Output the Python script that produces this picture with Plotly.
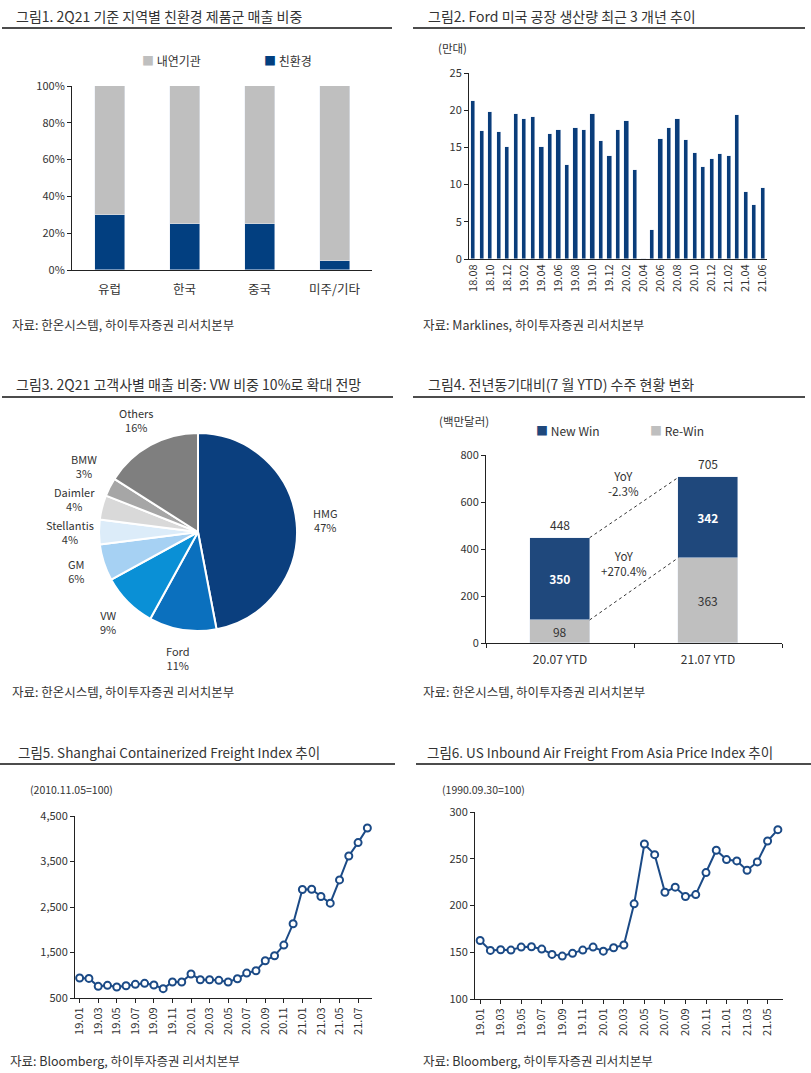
import math
import plotly.graph_objects as go

W, H = 811, 1073
FONT = "Noto Sans CJK KR"
TXT = "#333333"


def fx(p):
    return p / W


def fy(p):
    return 1 - p / H


def months(y0, m0, n):
    out = []
    y, m = y0, m0
    for _ in range(n):
        out.append(f"{y:02d}.{m:02d}")
        m += 1
        if m > 12:
            m = 1
            y += 1
    return out


# ---------------- data ----------------
regions = ['유럽', '한국', '중국', '미주/기타']
eco_share = [30, 25, 25, 5]
ice_share = [70, 75, 75, 95]

ford_months = months(18, 8, 35)
ford_prod = [21.2, 17.2, 19.8, 17.1, 15.1, 19.5, 18.8, 19.1, 15.0, 16.8, 17.3, 12.7,
             17.6, 17.3, 19.5, 15.8, 13.9, 17.4, 18.5, 12.0, 0.0, 3.9, 16.1, 17.6,
             18.8, 16.0, 14.2, 12.4, 13.5, 14.1, 13.8, 19.4, 9.0, 7.3, 9.5]

pie_labels = ['HMG', 'Ford', 'VW', 'GM', 'Stellantis', 'Daimler', 'BMW', 'Others']
pie_values = [47, 11, 9, 6, 4, 4, 3, 16]
pie_colors = ['#0B3F7E', '#0B70BE', '#0A90D6', '#A6D1F3', '#DCECF9', '#D9D9D9', '#A6A6A6', '#7F7F7F']

win_periods = ['20.07 YTD', '21.07 YTD']
re_win = [98, 363]
new_win = [350, 342]
yoy_labels = ['YoY<br>-2.3%', 'YoY<br>+270.4%']

scfi_months = months(19, 1, 32)
scfi = [939, 931, 756, 778, 741, 770, 800, 822, 785, 705, 851, 851,
        1027, 902, 902, 888, 851, 924, 1048, 1100, 1319, 1429, 1663, 2131,
        2884, 2891, 2730, 2584, 3096, 3622, 3915, 4237]

air_months = months(19, 1, 30)
air = [162.6, 152.0, 152.7, 152.3, 155.5, 155.9, 153.4, 147.7, 145.9, 148.8, 152.3, 155.5,
       151.2, 154.8, 157.7, 201.8, 265.8, 254.4, 214.2, 219.6, 209.6, 211.7, 235.2, 259.1,
       249.1, 247.7, 237.7, 246.6, 269.0, 281.1]

NAVY4 = '#1F487C'
GRAY = '#BFBFBF'
LINE = '#1B4A86'

fig = go.Figure()

# ---- panel 1
fig.add_trace(go.Bar(x=regions, y=eco_share, marker_color='#023F80', width=0.4,
                     xaxis='x', yaxis='y', showlegend=False))
fig.add_trace(go.Bar(x=regions, y=ice_share, marker_color=GRAY, width=0.4,
                     xaxis='x', yaxis='y', showlegend=False))

# ---- panel 2
fig.add_trace(go.Bar(x=ford_months, y=ford_prod, marker_color='#0A3D7A', width=0.5,
                     xaxis='x2', yaxis='y2', showlegend=False))

# ---- panel 3 (pie)
PIE_CX, PIE_CY, PIE_R = 198, 532, 99
fig.add_trace(go.Pie(labels=pie_labels, values=pie_values, sort=False, direction='clockwise',
                     rotation=0, marker=dict(colors=pie_colors, line=dict(color='white', width=2)),
                     textinfo='none', automargin=False,
                     domain=dict(x=[fx(PIE_CX - PIE_R), fx(PIE_CX + PIE_R)],
                                 y=[fy(PIE_CY + PIE_R), fy(PIE_CY - PIE_R)]),
                     showlegend=False))

# ---- panel 4
fig.add_trace(go.Bar(x=win_periods, y=re_win, marker_color=GRAY, width=0.4,
                     text=[str(v) for v in re_win], textposition='inside', insidetextanchor='middle',
                     textangle=0, constraintext='none',
                     textfont=dict(color=TXT, size=12, family=FONT),
                     xaxis='x4', yaxis='y4', showlegend=False))
fig.add_trace(go.Bar(x=win_periods, y=new_win, marker_color=NAVY4, width=0.4,
                     text=[f"<b>{v}</b>" for v in new_win], textposition='inside', insidetextanchor='middle',
                     textangle=0, constraintext='none',
                     textfont=dict(color='white', size=12, family=FONT),
                     xaxis='x4', yaxis='y4', showlegend=False))

# ---- panel 5
fig.add_trace(go.Scatter(x=scfi_months, y=scfi, mode='lines+markers',
                         line=dict(color=LINE, width=2),
                         marker=dict(symbol='circle', size=7, color='white', line=dict(color=LINE, width=2)),
                         xaxis='x5', yaxis='y5', showlegend=False))

# ---- panel 6
fig.add_trace(go.Scatter(x=air_months, y=air, mode='lines+markers',
                         line=dict(color=LINE, width=2),
                         marker=dict(symbol='circle', size=7, color='white', line=dict(color=LINE, width=2)),
                         xaxis='x6', yaxis='y6', showlegend=False))

axfont = dict(family=FONT, size=11, color=TXT)
base_axis = dict(showgrid=False, zeroline=False, showline=True, linecolor='#222222', linewidth=1,
                 ticks='outside', ticklen=4, tickcolor='#222222', tickfont=axfont, fixedrange=True,
                 automargin=False)

layout = dict(
    width=W, height=H, margin=dict(l=0, r=0, t=0, b=0, pad=0), autosize=False,
    paper_bgcolor='white', plot_bgcolor='white', barmode='stack', bargap=0,
    font=dict(family=FONT, color=TXT),
    xaxis=dict(base_axis, domain=[fx(72), fx(372)], anchor='y', ticks='', tickfont=dict(axfont, size=12.5),
               range=[-0.5, 3.5], ticklabelstandoff=8),
    yaxis=dict(base_axis, domain=[fy(270), fy(86)], anchor='x', range=[0, 100],
               tickvals=[0, 20, 40, 60, 80, 100], ticktext=['0%', '20%', '40%', '60%', '80%', '100%']),
    xaxis2=dict(base_axis, domain=[fx(469), fx(767)], anchor='y2', range=[-0.5, 34.5],
                tickmode='array', tickvals=ford_months[::2], ticktext=ford_months[::2],
                tickangle=-90, ticks=''),
    yaxis2=dict(base_axis, domain=[fy(259), fy(73)], anchor='x2', range=[0, 25], dtick=5),
    xaxis4=dict(base_axis, domain=[fx(486), fx(782)], anchor='y4', range=[-0.5, 1.5],
                tickson='boundaries', tickfont=dict(axfont, size=12), ticklabelstandoff=6),
    yaxis4=dict(base_axis, domain=[fy(643), fy(455)], anchor='x4', range=[0, 800], dtick=200),
    xaxis5=dict(base_axis, domain=[fx(75), fx(372)], anchor='y5', range=[-0.5, 31.5],
                tickmode='array', tickvals=scfi_months[::2], ticktext=scfi_months[::2], tickangle=-90),
    yaxis5=dict(base_axis, domain=[fy(998), fy(816)], anchor='x5', range=[500, 4500],
                tickvals=[500, 1500, 2500, 3500, 4500], tickformat=','),
    xaxis6=dict(base_axis, domain=[fx(475), fx(783)], anchor='y6', range=[-0.5, 29.5],
                tickmode='array', tickvals=air_months[::2], ticktext=air_months[::2], tickangle=-90),
    yaxis6=dict(base_axis, domain=[fy(999), fy(812)], anchor='x6', range=[100, 300], dtick=50),
)
fig.update_layout(**layout)

ann = []
shapes = []


def text(x, y, s, size=12, xanchor='left', yanchor='middle', color=TXT, **kw):
    ann.append(dict(x=fx(x), y=fy(y), xref='paper', yref='paper', text=s, showarrow=False,
                    xanchor=xanchor, yanchor=yanchor, font=dict(family=FONT, size=size, color=color), **kw))


def hline(x0, x1, y):
    shapes.append(dict(type='line', xref='paper', yref='paper', x0=fx(x0), x1=fx(x1), y0=fy(y), y1=fy(y),
                       line=dict(color='#111111', width=1.5)))


# titles
text(14, 16, '그림1. 2Q21 기준 지역별 친환경 제품군 매출 비중', size=14)
text(426, 16, '그림2. Ford 미국 공장 생산량 최근 3 개년 추이', size=14)
text(14, 384, '그림3. 2Q21 고객사별 매출 비중: VW 비중 10%로 확대 전망', size=14)
text(426, 384, '그림4. 전년동기대비(7 월 YTD) 수주 현황 변화', size=14)
text(16, 752, '그림5. Shanghai Containerized Freight Index 추이', size=13.5)
text(425, 752, '그림6. US Inbound Air Freight From Asia Price Index 추이', size=13.5)
hline(2, 392, 28)
hline(413, 805, 28)
hline(2, 393, 397)
hline(413, 805, 397)
hline(0, 395, 764)
hline(416, 811, 764)

# sources
SRC = 12.5
text(10, 324, '자료: 한온시스템, 하이투자증권 리서치본부', size=SRC)
text(421, 324, '자료: Marklines, 하이투자증권 리서치본부', size=SRC)
text(10, 691, '자료: 한온시스템, 하이투자증권 리서치본부', size=SRC)
text(421, 691, '자료: 한온시스템, 하이투자증권 리서치본부', size=SRC)
text(8, 1060, '자료: Bloomberg, 하이투자증권 리서치본부', size=SRC)
text(421, 1060, '자료: Bloomberg, 하이투자증권 리서치본부', size=SRC)

# legends / units
text(140, 61, f"<span style='color:{GRAY}'>■</span> 내연기관", size=12)
text(262, 61, "<span style='color:#023F80'>■</span> 친환경", size=12)
text(436, 48, '(만대)', size=11.5)
text(437, 421, '(백만달러)', size=11.5)
text(534, 430, f"<span style='color:{NAVY4}'>■</span> New Win", size=12)
text(648, 430, f"<span style='color:{GRAY}'>■</span> Re-Win", size=12)
text(28, 789, '(2010.11.05=100)', size=10.5)
text(440, 789, '(1990.09.30=100)', size=10.5)

# pie labels placed radially at each slice's mid-angle, then spaced so they do not collide
total = sum(pie_values)
cum = 0
pos = []
for lab, v in zip(pie_labels, pie_values):
    mid = (cum + v / 2) / total * 2 * math.pi
    cum += v
    rr = PIE_R * 1.29
    pos.append([PIE_CX + rr * math.sin(mid), PIE_CY - rr * math.cos(mid), lab, v])
left = sorted([p for p in pos if p[0] < PIE_CX - 40], key=lambda p: -p[1])
for below, above in zip(left, left[1:]):
    if below[1] - above[1] < 33:
        above[1] = below[1] - 33
for lx, ly, lab, v in pos:
    text(lx, ly, f"{lab}<br>{v}%", size=11, xanchor='center')

fig.update_layout(annotations=ann, shapes=shapes)

# panel 4 totals, YoY labels and connector lines (data coordinates)
totals = [r + n for r, n in zip(re_win, new_win)]
for i, t in enumerate(totals):
    fig.add_annotation(x=i, y=t, xref='x4', yref='y4', text=str(t), showarrow=False,
                       yanchor='bottom', yshift=3, font=dict(family=FONT, size=12, color=TXT))
fig.add_annotation(x=0.43, y=680, xref='x4', yref='y4', text=yoy_labels[0], showarrow=False,
                   font=dict(family=FONT, size=11.5, color=TXT), align='center')
fig.add_annotation(x=0.43, y=340, xref='x4', yref='y4', text=yoy_labels[1], showarrow=False,
                   font=dict(family=FONT, size=11.5, color=TXT), align='center')
fig.add_shape(type='line', xref='x4', yref='y4', x0=0.2, x1=0.8, y0=totals[0], y1=totals[1],
              line=dict(color='#333333', width=1, dash='dot'))
fig.add_shape(type='line', xref='x4', yref='y4', x0=0.2, x1=0.8, y0=re_win[0], y1=re_win[1],
              line=dict(color='#333333', width=1, dash='dot'))

fig.write_html("out.html", config={'displayModeBar': False},
               post_script="document.body.style.margin='0';document.body.style.overflow='hidden';")
